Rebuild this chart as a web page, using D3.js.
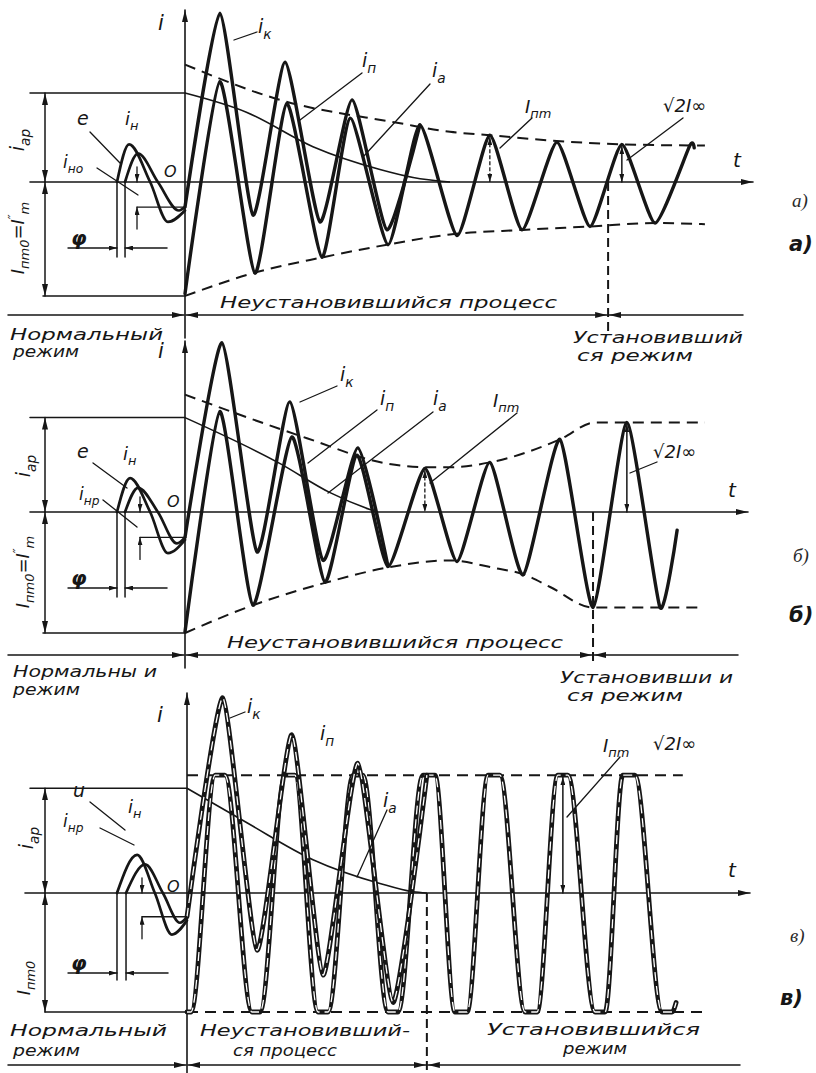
<!DOCTYPE html>
<html><head><meta charset="utf-8">
<script src="https://cdn.jsdelivr.net/npm/d3@7"></script>
<style>body{margin:0;background:#fff}svg{display:block}</style>
</head><body>
<svg id="c" width="816" height="1073"></svg>
<script>
// ---------------- DATA (t in ms, current in per-unit of I''m) ----------------
// Panel а)
const ikA = [[0,-0.22],[10.4,1.48],[20.3,-0.29],[29.9,1.05],[40.3,-0.35],[49.9,0.72],[60.3,-0.42],[70.1,0.50]];
const ipA = [[0,-0.98],[10.4,0.88],[20.9,-0.80],[30.4,0.69],[40.9,-0.66],[49.3,0.56],[60.6,-0.55],[70.1,0.50],[81.2,-0.47],[91.0,0.41],[100.6,-0.42],[111.0,0.35],[120.9,-0.39],[130.4,0.33],[140.3,-0.36],[150.7,0.32],[152.0,0.30]];
const iaA = [[0,0.78],[18.5,0.61],[38.2,0.31],[58.2,0.11],[68.1,0.04],[79.1,0]];
const eA  = [[-20.3,0],[-16.7,0.33],[-10.4,0],[-5.1,-0.35],[0,-0.25]];
const inA = [[-17.9,0],[-14.0,0.25],[-8.1,0],[-1.8,-0.25],[0,-0.22]];
const envUpA = [[0,1.03],[28.4,0.72],[63.3,0.52],[79.1,0.44],[91.0,0.41],[111.0,0.36],[130.4,0.33],[155.2,0.32]];
const envLoA = [[0,-1.0],[20.3,-0.80],[41.2,-0.66],[60.3,-0.55],[79.1,-0.46],[100.9,-0.42],[120.9,-0.39],[140.3,-0.36],[155.2,-0.37]];
const tSteadyA = 126.3;
const ampMarkA = [9, 13];     // indices of ipA peaks marked I_пm and √2I∞

// Panel б)
const ikB = [[0,-0.21],[11.0,1.40],[21.5,-0.33],[31.3,0.91],[41.2,-0.40],[51.6,0.53],[60.6,-0.45]];
const ipB = [[0,-0.99],[10.4,0.83],[20.3,-0.77],[31.9,0.62],[41.8,-0.58],[51.3,0.47],[60.6,-0.45],[71.6,0.36],[81.2,-0.41],[91.0,0.41],[100.9,-0.52],[111.9,0.60],[121.8,-0.79],[131.9,0.74],[141.8,-0.79],[146.9,-0.15]];
const iaB = [[0,0.78],[28.4,0.40],[43.3,0.16],[55.2,0.02],[57.3,0]];
const eB  = [[-20.3,0],[-16.4,0.28],[-10.4,0],[-5.1,-0.34],[0,-0.23]];
const inB = [[-17.9,0],[-14.0,0.20],[-8.1,0],[-2.4,-0.26],[0,-0.21]];
const envUpB = [[0,0.97],[36.4,0.61],[60.3,0.40],[71.6,0.37],[79.1,0.37],[91.0,0.41],[111.9,0.60],[122.4,0.74],[155.2,0.74]];
const envLoB = [[0,-1.0],[20.3,-0.77],[41.2,-0.59],[60.3,-0.46],[79.1,-0.40],[91.9,-0.46],[101.5,-0.52],[109.0,-0.62],[121.8,-0.79],[154.3,-0.79]];
const tSteadyB = 121.8;
const ampMarkB = [7, 13];

// Panel в)
const ikC = [[0,-0.20],[10.7,1.64],[20.9,-0.48],[31.3,1.33],[40.6,-0.69],[51.0,1.09],[61.5,-0.92],[71.6,0.99]];
const ipC = [[0,-1.0],[1.2,-1.0],[8.4,0.99],[11.3,0.99],[19.4,-1.0],[21.8,-1.0],[29.3,0.99],[32.2,0.99],[39.1,-1.0],[42.1,-1.0],[49.6,0.99],[52.5,0.99],[60.0,-1.0],[63.0,-1.0],[70.4,0.99],[74.0,0.99],[80.0,-1.0],[83.6,-1.0],[89.9,0.99],[93.4,0.99],[100.9,-1.0],[104.5,-1.0],[110.7,0.99],[113.7,0.99],[121.8,-1.0],[124.8,-1.0],[130.1,0.99],[133.7,0.99],[141.8,-1.0],[144.8,-1.0],[146.0,-0.92]];
const iaC = [[0,0.88],[17.9,0.59],[37.6,0.28],[57.6,0.08],[67.5,0.01],[71.6,0]];
const eC  = [[-20.9,0],[-14.9,0.32],[-9.6,0],[-4.5,-0.35],[0,-0.23]];
const inC = [[-18.2,0],[-12.5,0.24],[-7.2,0],[-2.1,-0.25],[0,-0.20]];
const envUpC = [[0,0.99],[148,0.99]];
const envLoC = [[0,-1.0],[154.6,-1.0]];
const tSteadyC = 71.6;
const ampMarkC = [22, 23];

// ---------------- LAYOUT ----------------
const INK = '#161616';
const FONT = "'DejaVu Sans', sans-serif";
const svg = d3.select('#c');
const defs = svg.append('defs');
function mk(id, w, h){
  defs.append('marker').attr('id',id).attr('viewBox',`0 0 ${w} ${h}`)
    .attr('refX',w).attr('refY',h/2).attr('markerWidth',w).attr('markerHeight',h)
    .attr('markerUnits','userSpaceOnUse').attr('orient','auto-start-reverse')
    .append('path').attr('d',`M0,0 L${w},${h/2} L0,${h} Z`).attr('fill',INK);
}
mk('ah',12,6); mk('as',8,5);

function seg(g,x1,y1,x2,y2,o={}){
  const l = g.append('line').attr('x1',x1).attr('y1',y1).attr('x2',x2).attr('y2',y2)
    .attr('stroke',INK).attr('stroke-width',o.w||1.5).attr('stroke-linecap','round');
  if(o.dash) l.attr('stroke-dasharray',o.dash).attr('stroke-linecap','butt');
  const m = o.small ? 'url(#as)' : 'url(#ah)';
  if(o.s) l.attr('marker-start',m);
  if(o.e) l.attr('marker-end',m);
  return l;
}
function mtext(g,x,y,parts,o={}){
  const size=o.size||19;
  const t=g.append('text').attr('x',x).attr('y',y).attr('font-size',size)
    .attr('font-family',o.family||FONT).attr('font-style',o.style||'italic')
    .attr('font-weight',o.weight||'normal').attr('fill',o.fill||INK);
  if(o.anchor) t.attr('text-anchor',o.anchor);
  if(o.transform) t.attr('transform',o.transform);
  let shift=0;
  parts.forEach(p=>{
    const target = p.sub ? size*0.3 : (p.sup ? -size*0.38 : 0);
    const ts=t.append('tspan').text(p.t).attr('dy',target-shift);
    if(p.sub||p.sup) ts.attr('font-size',size*0.72);
    shift=target;
  });
  return t;
}
function words(g,x,y,s,len,size){
  g.append('text').attr('x',x).attr('y',y).attr('font-size',size||15)
   .attr('font-family',FONT).attr('font-style','italic').attr('fill',INK)
   .attr('textLength',len).attr('lengthAdjust','spacingAndGlyphs').text(s);
}

const panels = [
 { x0:185, y0:182, A:114, axTop:10, axBot:338, tL:30, tR:753, brY:315, vEnd:335, bottomL:43,
   phiLen:75, phiY:248, mkX:137, tube:false,
   ik:ikA, ip:ipA, ia:iaA, e:eA, iN:inA, up:envUpA, lo:envLoA, tS:tSteadyA, am:ampMarkA,
   eName:'e', inoSub:'но',
   labels:{ i:[158,30], ik:[258,33,257,32,234,40], ip:[362,67,362,73,300,120], ia:[432,77,430,84,363,157],
     Ipm:[525,113,532,118,500,148], s2:[663,112,683,118,627,160], t:[733,167],
     e:[77,125,90,132,120,163], iN:[125,125], ino:[63,168,97,168,138,195], O:[164,177],
     iap:[24,140], inm:[24,238] },
   txt:[['Неустановившийся процесс',220,308,337],['Нормальный',10,340,153],['режим',13,357,66],
        ['Установивший',573,343,170],['ся режим',577,361,116]],
   pl:[[792,207],[789,251]], plName:'а)' },
 { x0:185, y0:512, A:121, axTop:341, axBot:668, tL:30, tR:748, brY:655, vEnd:665, bottomL:43,
   phiLen:85, phiY:588, mkX:140, tube:false,
   ik:ikB, ip:ipB, ia:iaB, e:eB, iN:inB, up:envUpB, lo:envLoB, tS:tSteadyB, am:ampMarkB,
   eName:'e', inoSub:'нр',
   labels:{ i:[158,358], ik:[340,381,337,386,300,402], ip:[380,405,377,410,308,463], ia:[433,405,433,412,328,493],
     Ipm:[493,407,517,413,430,483], s2:[653,458,657,462,630,473], t:[728,497],
     e:[77,458,93,463,127,488], iN:[123,460], ino:[79,500,103,500,137,527], O:[167,507],
     iap:[30,466], inm:[29,572] },
   txt:[['Неустановившийся процесс',227,648,336],['Нормальны и',13,677,144],['режим',13,695,67],
        ['Установивши и',560,683,173],['ся режим',567,701,116]],
   pl:[[793,562],[789,622]], plName:'б)' },
 { x0:187, y0:893, A:119, axTop:693, axBot:1073, tL:25, tR:750, brY:1065, vEnd:1073, bottomL:45,
   phiLen:87, phiY:973, mkX:142, tube:true,
   ik:ikC, ip:ipC, ia:iaC, e:eC, iN:inC, up:envUpC, lo:envLoC, tS:tSteadyC, am:ampMarkC,
   eName:'u', inoSub:'нр',
   labels:{ i:[157,722], ik:[247,713,245,712,230,718], ip:[320,740], ia:[383,807,387,810,357,877],
     Ipm:[603,752,620,757,567,817], s2:[653,750], t:[728,877],
     e:[73,797,90,802,125,830], iN:[128,813], ino:[63,827,100,828,134,845], O:[167,892],
     iap:[33,838], inm:[30,978] },
   txt:[['Нормальный',10,1036,157],['режим',13,1056,67],['Неустановивший-',200,1036,210],['ся процесс',233,1056,104],
        ['Установившийся',487,1035,213],['режим',563,1054,64]],
   pl:[[790,942],[780,1005]], plName:'в)' }
];

panels.forEach(P=>{
  const g = svg.append('g');
  const x = d3.scaleLinear().domain([0,100]).range([P.x0, P.x0+335]);
  const y = d3.scaleLinear().domain([-1,1]).range([P.y0+P.A, P.y0-P.A]);
  const line = d3.line().x(d=>x(d[0])).y(d=>y(d[1])).curve(d3.curveMonotoneX);
  const wave = d3.line().x(d=>x(d[0])).y(d=>y(d[1])).curve(d3.curveCardinal.tension(0.45));
  const X0 = x(0), Y0 = y(0);

  // axes
  seg(g, P.tL, Y0, P.tR, Y0, {w:1.6, e:true});
  seg(g, X0, P.axBot, X0, P.axTop, {w:1.6, e:true});

  // left reference lines and dimension arrows
  const yAp = y(P.ia[0][1]), yNm = y(-1);
  seg(g, 30, yAp, X0, yAp, {w:1.5});
  seg(g, P.bottomL, yNm, X0, yNm, {w:1.5});
  seg(g, 45, yAp, 45, Y0, {w:1.5, s:true, e:true});
  seg(g, 45, Y0, 45, yNm, {w:1.5, s:true, e:true});

  // envelopes (dashed)
  [P.up, P.lo].forEach(d=> g.append('path').attr('d',line(d)).attr('fill','none')
     .attr('stroke',INK).attr('stroke-width',2).attr('stroke-dasharray','11,7'));

  // aperiodic component
  g.append('path').attr('d',line(P.ia)).attr('fill','none').attr('stroke',INK).attr('stroke-width',1.6);

  // pre-fault e/u and i_н
  [P.e, P.iN].forEach(d=> g.append('path').attr('d',line(d)).attr('fill','none')
     .attr('stroke',INK).attr('stroke-width',2.7).attr('stroke-linecap','round'));

  // waveforms
  [P.ip, P.ik].forEach(d=>{
    const gen = (P.tube && d===P.ip) ? line : wave;
    g.append('path').attr('d',gen(d)).attr('fill','none').attr('stroke',INK)
      .attr('stroke-width',P.tube?4.8:3.4).attr('stroke-linejoin','round').attr('stroke-linecap','round');
    if(P.tube) g.append('path').attr('d',gen(d)).attr('fill','none').attr('stroke','#fff')
      .attr('stroke-width',1.3).attr('stroke-dasharray','9,5');
  });

  // steady-state boundary
  const xs = x(P.tS);
  seg(g, xs, Y0, xs, P.vEnd, {w:2, dash:'9,5'});

  // bottom brackets
  seg(g, 8, P.brY, X0-1, P.brY, {w:1.5, e:true});
  seg(g, X0+1, P.brY, xs-1, P.brY, {w:1.5, s:true, e:true});
  seg(g, xs+1, P.brY, P.tR-10, P.brY, {w:1.5, s:true});

  // φ marks
  const xe = x(P.e[0][0]), xi = x(P.iN[0][0]);
  seg(g, xe, Y0, xe, Y0+P.phiLen, {w:1.5});
  seg(g, xi, Y0, xi, Y0+P.phiLen, {w:1.5});
  seg(g, 68, P.phiY, xe, P.phiY, {w:1.4, e:true, small:true});
  seg(g, xi+42, P.phiY, xi, P.phiY, {w:1.4, e:true, small:true});
  mtext(g, 71, P.phiY-3, [{t:'φ'}], {size:20, weight:'bold'});

  // i_н0 marks
  const yk0 = y(P.ik[0][1]);
  seg(g, P.mkX, yk0, X0, yk0, {w:1.4});
  seg(g, P.mkX, Y0-15, P.mkX, Y0, {w:1.3, e:true, small:true});
  seg(g, P.mkX, yk0+22, P.mkX, yk0, {w:1.3, e:true, small:true});

  // amplitude arrows
  const pk = P.am.map(i=>P.ip[i]);
  const tA1 = pk[0][0], tA2 = pk[1][0];
  if(P.tube){
    const tm = (pk[0][0]+pk[1][0])/2;
    seg(g, x(tm), y(pk[0][1])+2, x(tm), Y0, {w:1.5, s:true, e:true, small:true});
  } else {
    seg(g, x(tA1), y(pk[0][1])+2, x(tA1), Y0, {w:1.3, s:true, e:true, small:true, dash:'4,2'});
    seg(g, x(tA2), y(pk[1][1])+2, x(tA2), Y0, {w:1.5, s:true, e:true, small:true});
  }

  // labels
  const L = P.labels;
  mtext(g, L.i[0], L.i[1], [{t:'i'}], {size:21});
  mtext(g, L.t[0], L.t[1], [{t:'t'}], {size:20});
  const lab = (a, parts, size)=>{ mtext(g, a[0], a[1], parts, {size:size||19});
    if(a.length>2) seg(g, a[2], a[3], a[4], a[5], {w:1.3}); };
  lab(L.ik, [{t:'i'},{t:'к',sub:true}]);
  lab(L.ip, [{t:'i'},{t:'п',sub:true}]);
  lab(L.ia, [{t:'i'},{t:'а',sub:true}]);
  lab(L.Ipm, [{t:'I'},{t:'пm',sub:true}], 18);
  lab(L.s2, [{t:'√2I∞'}], 18);
  lab(L.e, [{t:P.eName}], 19);
  lab(L.iN, [{t:'i'},{t:'н',sub:true}], 18);
  lab(L.ino, [{t:'i'},{t:P.inoSub,sub:true}], 17);
  mtext(g, L.O[0], L.O[1], [{t:'O'}], {size:16});
  mtext(g, 0, 0, [{t:'i'},{t:'ар',sub:true}], {size:19, anchor:'middle', transform:`translate(${L.iap[0]},${L.iap[1]}) rotate(-90)`});
  const inmParts = P.tube ? [{t:'I'},{t:'пm0',sub:true}] : [{t:'I'},{t:'пm0',sub:true},{t:'=I'},{t:'″',sup:true},{t:'m',sub:true}];
  mtext(g, 0, 0, inmParts, {size:18, anchor:'middle', transform:`translate(${L.inm[0]},${L.inm[1]}) rotate(-90)`});

  // words
  P.txt.forEach(w=>words(g, w[1], w[2], w[0], w[3], 16));

  // panel letters
  mtext(g, P.pl[0][0], P.pl[0][1], [{t:P.plName}], {size:19, family:"'Liberation Serif', serif", fill:'#2a2a2a'});
  mtext(g, P.pl[1][0], P.pl[1][1], [{t:P.plName}], {size:21, weight:'bold'});
});
</script>
</body></html>
